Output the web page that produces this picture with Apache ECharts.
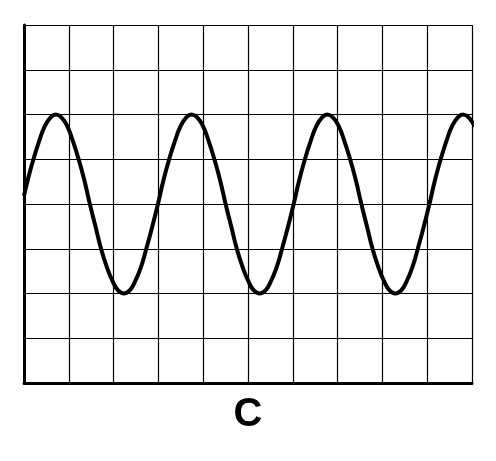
<!DOCTYPE html>
<html>
<head>
<meta charset="utf-8">
<script src="https://cdn.jsdelivr.net/npm/echarts@6/dist/echarts.min.js"></script>
<style>
html,body{margin:0;padding:0;background:#fff;}
#chart{width:496px;height:461px;}
</style>
</head>
<body>
<div id="chart"></div>
<script>
const chartLabel = 'C';
const xValues = [0,0.08,0.21,0.34,0.46,0.59,0.71,0.84,0.97,1.09,1.22,1.35,1.47,1.60,1.72,1.85,1.98,2.10,2.23,2.36,2.48,2.61,2.73,2.86,2.99,3.11,3.24,3.37,3.49,3.62,3.74,3.87,4.00,4.12,4.25,4.38,4.50,4.63,4.75,4.88,5.01,5.13,5.26,5.39,5.51,5.64,5.76,5.89,6.02,6.14,6.27,6.40,6.52,6.65,6.77,6.90,7.03,7.15,7.28,7.41,7.53,7.66,7.78,7.91,8.04,8.16,8.29,8.42,8.54,8.67,8.79,8.92,9.05,9.17,9.30,9.43,9.55,9.68,9.80,9.93,10.06];
const yValues = [0.18,0.52,1.00,1.41,1.73,1.93,2.00,1.93,1.73,1.41,1.00,0.52,0,-0.52,-1.00,-1.41,-1.73,-1.93,-2.00,-1.93,-1.73,-1.41,-1.00,-0.52,0,0.52,1.00,1.41,1.73,1.93,2.00,1.93,1.73,1.41,1.00,0.52,0,-0.52,-1.00,-1.41,-1.73,-1.93,-2.00,-1.93,-1.73,-1.41,-1.00,-0.52,0,0.52,1.00,1.41,1.73,1.93,2.00,1.93,1.73,1.41,1.00,0.52,0,-0.52,-1.00,-1.41,-1.73,-1.93,-2.00,-1.93,-1.73,-1.41,-1.00,-0.52,0,0.52,1.00,1.41,1.73,1.93,2.00,1.93,1.73];
const xRange = [0, 10];
const yRange = [-4, 4];

const data = xValues.map((x, i) => [x, yValues[i]]);
const chart = echarts.init(document.getElementById('chart'), null, {renderer: 'canvas'});
chart.setOption({
  animation: false,
  backgroundColor: '#ffffff',
  grid: {left: 24, right: 24, top: 25, bottom: 78},
  xAxis: {
    type: 'value', min: xRange[0], max: xRange[1], interval: 1,
    axisLine: {show: true, onZero: false, lineStyle: {color: '#000', width: 3}},
    axisTick: {show: false}, axisLabel: {show: false},
    splitLine: {show: true, lineStyle: {color: '#000', width: 1.2}}
  },
  yAxis: {
    type: 'value', min: yRange[0], max: yRange[1], interval: 1,
    axisLine: {show: true, onZero: false, lineStyle: {color: '#000', width: 3}},
    axisTick: {show: false}, axisLabel: {show: false},
    splitLine: {show: true, lineStyle: {color: '#000', width: 1.2}}
  },
  series: [{
    type: 'line', data: data, smooth: 0.5, showSymbol: false, clip: true,
    lineStyle: {color: '#000', width: 4}
  }],
  graphic: [{
    type: 'text', left: 'center', top: 395,
    style: {text: chartLabel, fill: '#000', font: 'bold 40px "Liberation Sans", Arial, sans-serif'}
  }]
});
</script>
</body>
</html>
